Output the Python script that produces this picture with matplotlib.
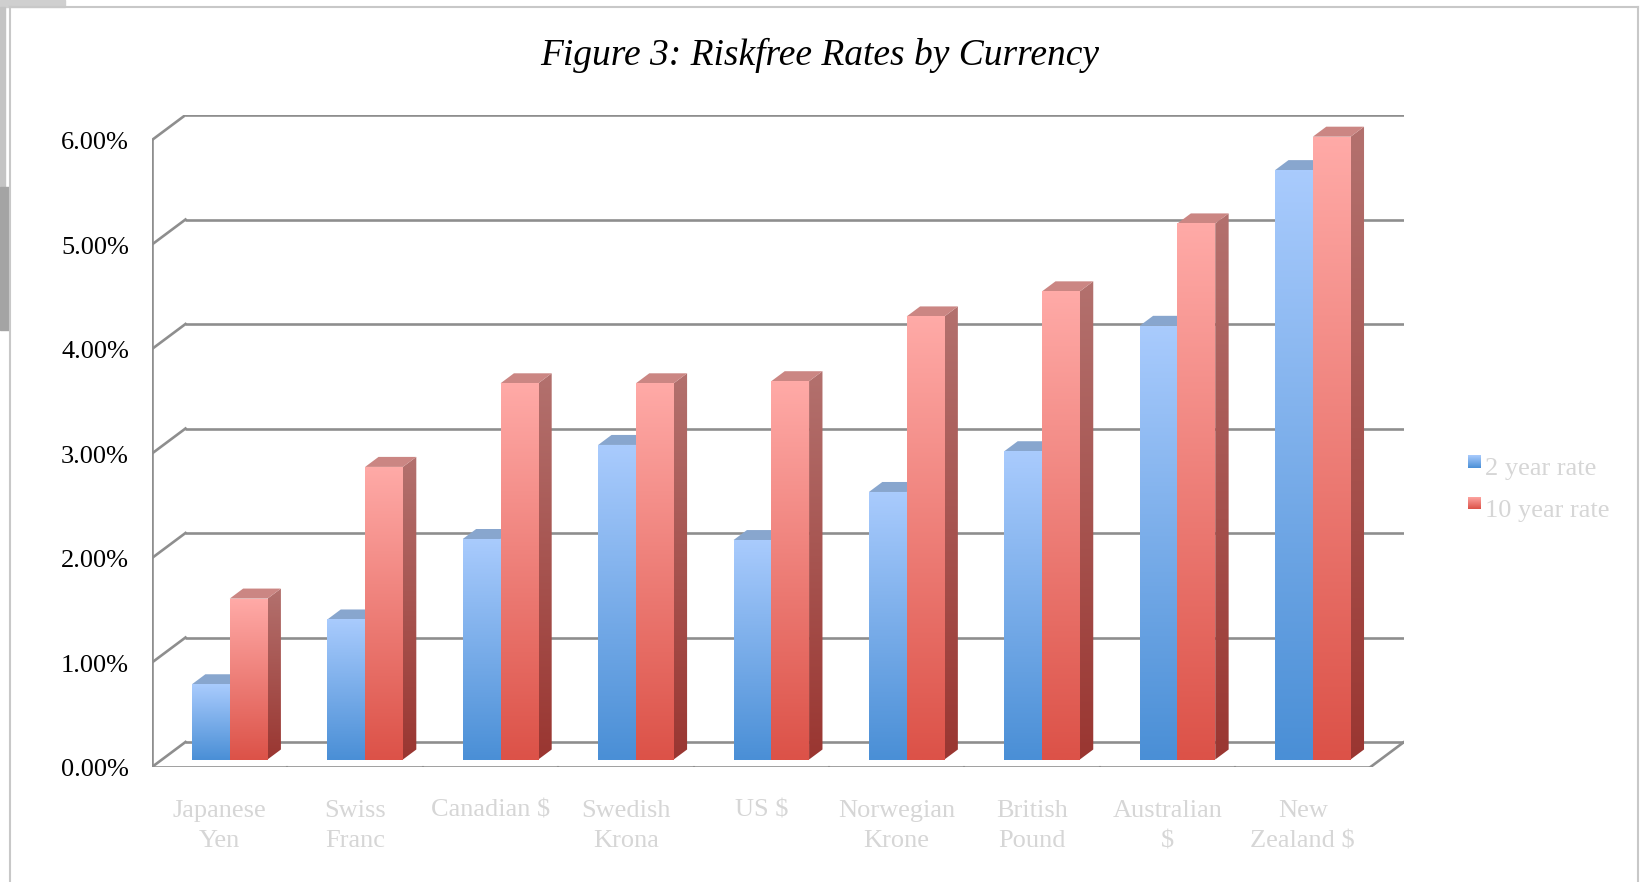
import numpy as np
import matplotlib.pyplot as plt
from matplotlib.patches import Polygon, Rectangle
from matplotlib.colors import to_rgb

# Riskfree rates (%) by currency
currencies = ["Japanese\nYen", "Swiss\nFranc", "Canadian $", "Swedish\nKrona", "US $",
              "Norwegian\nKrone", "British\nPound", "Australian\n$", "New\nZealand $"]
two_year = [0.72, 1.34, 2.11, 3.01, 2.10, 2.56, 2.95, 4.15, 5.64]
ten_year = [1.54, 2.80, 3.60, 3.60, 3.62, 4.24, 4.48, 5.13, 5.96]
yticks = [0, 1, 2, 3, 4, 5, 6]

plt.rcParams['font.family'] = ['Liberation Serif', 'DejaVu Serif']

# pseudo 3-D depth of the plot box, in data units
DX = 0.2474
DY = 0.2392
BAR_W = 0.279
F0 = 0.30      # depth where bar fronts sit
BD = 0.40      # bar depth as fraction of box depth
GRID = '#8e8e8e'
LABEL_GRAY = '#d6d6d6'

blue = dict(front=('#a9cbfd', '#4a8fd6'), top='#88a6ce', side=('#7d9ac4', '#3f70aa'))
red = dict(front=('#ffaaa7', '#dc5248'), top='#cb8683', side=('#b3716e', '#9a3631'))


def gradient(ax, extent, c_top, c_bot, clip=None, z=3):
    t = np.linspace(0, 1, 128)[:, None]
    col = (1 - t) * np.array(to_rgb(c_top)) + t * np.array(to_rgb(c_bot))
    im = ax.imshow(col[:, None, :], extent=extent, aspect='auto',
                   interpolation='bilinear', origin='upper', zorder=z)
    if clip is not None:
        im.set_clip_path(clip)
    return im


def bar3d(ax, x0, h, style):
    w = BAR_W
    ox, oy = F0 * DX, F0 * DY
    bx, by = BD * DX, BD * DY
    xl, xr = x0 + ox, x0 + ox + w
    yb, yt = oy, oy + h
    # side face
    side = [(xr, yb), (xr + bx, yb + by), (xr + bx, yt + by), (xr, yt)]
    sp = Polygon(side, closed=True, transform=ax.transData)
    gradient(ax, [xr, xr + bx, yb, yt + by], *style['side'], clip=sp)
    # top face
    top = [(xl, yt), (xr, yt), (xr + bx, yt + by), (xl + bx, yt + by)]
    ax.add_patch(Polygon(top, closed=True, facecolor=style['top'],
                         edgecolor='none', zorder=3))
    # front face
    gradient(ax, [xl, xr, yb, yt], *style['front'])


fig = plt.figure(figsize=(16.43, 8.82), dpi=100)
ax = fig.add_axes([152 / 1643, 1 - 767 / 882, 1252 / 1643, 652 / 882])
ax.set_axis_off()

n = len(currencies)

# back wall gridlines and left wall diagonals
for k in yticks:
    ax.plot([DX, n + DX], [k + DY, k + DY], color=GRID, lw=1.9, zorder=1,
            solid_capstyle='butt')
    ax.plot([0, DX], [k, k + DY], color=GRID, lw=1.9, zorder=1)
    ax.plot([-0.037, 0], [k, k], color=GRID, lw=1.5, zorder=1)
    ax.text(-0.17, k - 0.088, f"{k:.2f}%", ha='right', va='baseline',
            fontsize=19, color='black')

# floor and front axis
ax.plot([0, 0], [0, yticks[-1]], color=GRID, lw=1.9, zorder=1)
ax.plot([0, n], [0, 0], color=GRID, lw=1.9, zorder=1)
ax.plot([n, n + DX], [0, DY], color=GRID, lw=1.9, zorder=1)
for i in range(n + 1):
    ax.plot([i, i], [0, -0.06], color=GRID, lw=1.5, zorder=1)

# bars
for i in range(n):
    bar3d(ax, i + 0.5 - BAR_W, two_year[i], blue)
    bar3d(ax, i + 0.5, ten_year[i], red)
    ax.text(i + 0.5, -0.314, currencies[i], ha='center', va='top',
            fontsize=19, color=LABEL_GRAY, linespacing=1.5)

ax.set_xlim(0, n + DX)
ax.set_ylim(0, yticks[-1] + DY)

# title
fig.text(820 / 1643, 1 - 55 / 882, "Figure 3: Riskfree Rates by Currency",
         ha='center', va='center', fontsize=27, style='italic')

# legend
for j, (name, style) in enumerate([("2 year rate", blue), ("10 year rate", red)]):
    yc = 461 + 42 * j
    lax = fig.add_axes([1468 / 1643, 1 - (yc + 6.5) / 882, 13 / 1643, 13 / 882])
    lax.set_axis_off()
    gradient(lax, [0, 1, 0, 1], *style['front'])
    lax.set_xlim(0, 1)
    lax.set_ylim(0, 1)
    fig.text(1485 / 1643, 1 - (475 + 42 * j) / 882, name, ha='left', va='baseline',
             fontsize=19, color=LABEL_GRAY)

# window frame around the chart
frame = dict(color='#c8c8c8', lw=1.5, transform=fig.transFigure)
fig.add_artist(plt.Line2D([10 / 1643, 1638 / 1643], [1 - 7 / 882, 1 - 7 / 882], **frame))
fig.add_artist(plt.Line2D([10 / 1643, 10 / 1643], [0, 1 - 7 / 882], **frame))
fig.add_artist(plt.Line2D([1638 / 1643, 1638 / 1643], [0, 1 - 7 / 882], **frame))
fig.add_artist(Rectangle((0, 1 - 7 / 882), 65 / 1643, 7 / 882, color='#cfcfcf',
                         transform=fig.transFigure))
fig.add_artist(Rectangle((0, 1 - 187 / 882), 5 / 1643, 180 / 882, color='#c4c4c4',
                         transform=fig.transFigure))
fig.add_artist(Rectangle((0, 1 - 330 / 882), 9 / 1643, 143 / 882, color='#a4a4a4',
                         transform=fig.transFigure))

fig.savefig("out.png", dpi=100)
